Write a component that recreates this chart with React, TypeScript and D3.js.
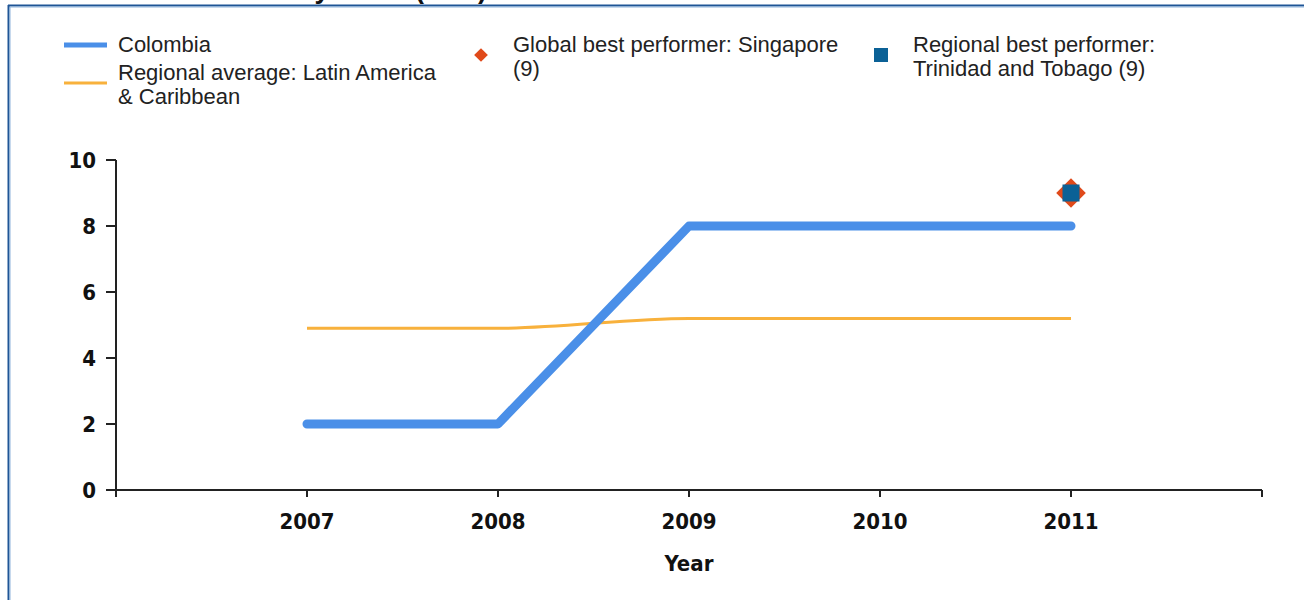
import React from "react";
import * as d3 from "d3";

const years = [2007, 2008, 2009, 2010, 2011];
const colombia = [2, 2, 8, 8, 8];
const regionalAvg = [4.9, 4.9, 5.2, 5.2, 5.2];
const globalBest = { year: 2011, value: 9 };
const regionalBest = { year: 2011, value: 9 };
const yTicks = [0, 2, 4, 6, 8, 10];
const titleText = "Extent of director liability index (0-10)";
const legendColombia = ["Colombia"];
const legendRegional = ["Regional average: Latin America", "& Caribbean"];
const legendGlobal = ["Global best performer: Singapore", "(9)"];
const legendRegBest = ["Regional best performer:", "Trinidad and Tobago (9)"];

const W = 1304;
const H = 600;
const BLUE = "#4a8fe8";
const ORANGE = "#f8b13c";
const RED = "#e04a1a";
const TEAL = "#0b6196";

export default function App() {
  const x = d3.scaleLinear().domain([2006, 2012]).range([116, 1262]);
  const y = d3.scaleLinear().domain([0, 10]).range([490, 160]);
  const line = d3
    .line<number>()
    .x((_, i) => x(years[i]))
    .y((d) => y(d));
  const lineSmooth = d3
    .line<number>()
    .x((_, i) => x(years[i]))
    .y((d) => y(d))
    .curve(d3.curveMonotoneX);

  const legendFont = "'Liberation Sans', Arial, sans-serif";
  const axisFont = "'DejaVu Sans Condensed', 'DejaVu Sans', sans-serif";
  const diamond = d3.symbol().type(d3.symbolDiamond2).size(560)();
  const diamondLeg = d3.symbol().type(d3.symbolDiamond2).size(120)();

  return (
    <svg
      width={W}
      height={H}
      style={{ position: "absolute", left: 0, top: 0, background: "#fff" }}
    >
      {/* clipped title (cut off at the top edge, as in the reference) */}
      <text
        x={487}
        y={-2}
        textAnchor="end"
        fontFamily={legendFont}
        fontWeight="bold"
        fontSize={27}
        fill="#111"
      >
        {titleText}
      </text>
      {/* frame */}
      <line x1={8} y1={5.5} x2={W} y2={5.5} stroke="#1f5596" strokeWidth={2} />
      <line x1={9} y1={7} x2={W} y2={7} stroke="#8fb4dc" strokeWidth={1} />
      <line x1={8.5} y1={5} x2={8.5} y2={H} stroke="#1f5596" strokeWidth={2} />
      <line x1={10} y1={7} x2={10} y2={H} stroke="#8fb4dc" strokeWidth={1} />

      {/* legend */}
      <g fontFamily={legendFont} fontSize={22} fill="#222">
        <line x1={64} x2={107} y1={45} y2={45} stroke={BLUE} strokeWidth={5} />
        {legendColombia.map((t, i) => (
          <text key={t} x={118} y={52 + i * 24}>{t}</text>
        ))}
        <line x1={64} x2={107} y1={83} y2={83} stroke={ORANGE} strokeWidth={3} />
        {legendRegional.map((t, i) => (
          <text key={t} x={118} y={80 + i * 24}>{t}</text>
        ))}
        <path d={diamondLeg as string} transform="translate(481,55)" fill={RED} />
        {legendGlobal.map((t, i) => (
          <text key={t} x={513} y={52 + i * 24}>{t}</text>
        ))}
        <rect x={874} y={48} width={14} height={14} fill={TEAL} />
        {legendRegBest.map((t, i) => (
          <text key={t} x={913} y={52 + i * 24}>{t}</text>
        ))}
      </g>

      {/* axes */}
      <g stroke="#222" strokeWidth={2} fill="none">
        <line x1={x(2006)} x2={x(2006)} y1={y(10)} y2={y(0)} />
        <line x1={x(2006)} x2={x(2012)} y1={y(0)} y2={y(0)} />
        {yTicks.map((t) => (
          <line key={t} x1={x(2006) - 10} x2={x(2006)} y1={y(t)} y2={y(t)} />
        ))}
        {[2006, ...years, 2012].map((yr) => (
          <line key={yr} x1={x(yr)} x2={x(yr)} y1={y(0)} y2={y(0) + 7} />
        ))}
      </g>
      <g fontFamily={axisFont} fontWeight="bold" fontSize={22} fill="#111">
        {yTicks.map((t) => (
          <text key={t} x={x(2006) - 20} y={y(t)} dy="0.36em" textAnchor="end">
            {t}
          </text>
        ))}
        {years.map((yr) => (
          <text key={yr} x={x(yr)} y={529} textAnchor="middle">
            {yr}
          </text>
        ))}
        <text x={x(2009)} y={571} textAnchor="middle">Year</text>
      </g>

      {/* series */}
      <path
        d={lineSmooth(regionalAvg) as string}
        fill="none"
        stroke={ORANGE}
        strokeWidth={3}
      />
      <path
        d={line(colombia) as string}
        fill="none"
        stroke={BLUE}
        strokeWidth={9}
        strokeLinecap="round"
        strokeLinejoin="round"
      />
      <path
        d={diamond as string}
        transform={`translate(${x(globalBest.year)},${y(globalBest.value)})`}
        fill={RED}
      />
      <rect
        x={x(regionalBest.year) - 8.5}
        y={y(regionalBest.value) - 8.5}
        width={17}
        height={17}
        fill={TEAL}
      />
    </svg>
  );
}
